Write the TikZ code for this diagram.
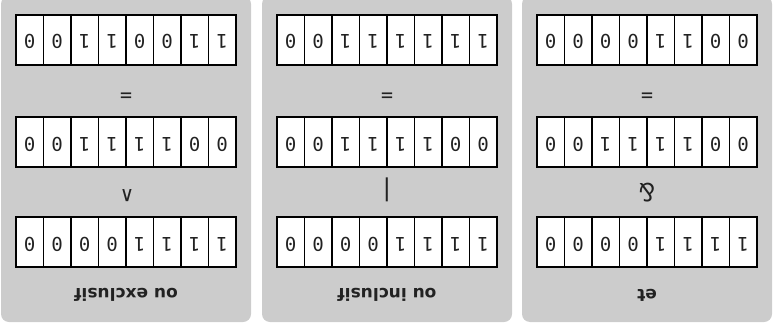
\documentclass[tikz,border=0pt]{standalone}
\usepackage{fontspec}
\setmainfont{DejaVu Sans}
\setmonofont{DejaVu Sans Mono}
\definecolor{panelgray}{HTML}{CCCCCC}
\definecolor{ink}{HTML}{222222}
\newcommand\bitrow[4]{%
  \foreach \d [count=\i from 0] in {#4} {%
    \node[cell] (#1\i) at ({#2+27.5*(\i+0.5)},#3) {\d};}}
\begin{document}
\begin{tikzpicture}[x=1pt,y=-1pt,
  panel/.style={fill=panelgray, rounded corners=8pt},
  cell/.style={draw=black, line width=1.6pt, fill=white, minimum width=27.5pt,
    minimum height=50pt, inner sep=0pt, text=ink, rotate=180,
    text height=14pt, text depth=4pt,
    font=\ttfamily\fontsize{19}{19}\selectfont},
  op/.style={inner sep=0pt, text=ink, rotate=180, font=\ttfamily\fontsize{20}{20}\selectfont},
  title/.style={inner sep=0pt, text=ink, rotate=180, font=\bfseries\fontsize{17}{17}\selectfont}]
\useasboundingbox (0,0) rectangle (775,326);
% panels
\foreach \cx in {126,387,647} {
  \fill[panel] (\cx-125,-4) rectangle (\cx+125,322);
}
% left panel: ou exclusif
\bitrow{xr}{16}{40}{0,0,1,1,0,0,1,1}
\bitrow{xb}{16}{142}{0,0,1,1,1,1,0,0}
\bitrow{xa}{16}{242}{0,0,0,0,1,1,1,1}
\node[op] (xeq) at (126,94.5) {=};
\node[op, font=\ttfamily\fontsize{21}{21}\selectfont] (xop) at (127,196) {∧};
\node[title] (xt) at (126,295) {ou exclusif};
% middle panel: ou inclusif
\bitrow{or}{277}{40}{0,0,1,1,1,1,1,1}
\bitrow{ob}{277}{142}{0,0,1,1,1,1,0,0}
\bitrow{oa}{277}{242}{0,0,0,0,1,1,1,1}
\node[op] (oeq) at (387,94.5) {=};
\node[op, font=\ttfamily\fontsize{24}{24}\selectfont] (oop) at (387,190) {|};
\node[title] (ot) at (387,295) {ou inclusif};
% right panel: et
\bitrow{ar}{537}{40}{0,0,0,0,1,1,0,0}
\bitrow{ab}{537}{142}{0,0,1,1,1,1,0,0}
\bitrow{aa}{537}{242}{0,0,0,0,1,1,1,1}
\node[op] (aeq) at (647,94.5) {=};
\node[op, font=\ttfamily\fontsize{25}{25}\selectfont] (aop) at (647,193) {\&};
\node[title] (at) at (647,295) {et};
\end{tikzpicture}
\end{document}
